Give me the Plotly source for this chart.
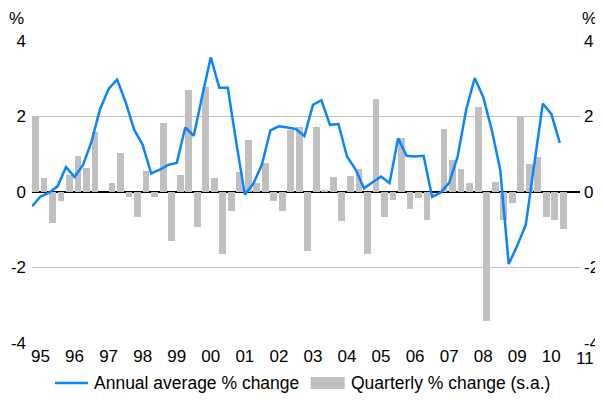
import plotly.graph_objects as go

# Quarterly data from 1995Q1 (index 0) to 2010Q3 (index 62)
quarterly_change = [
    2.0, 0.38, -0.81, -0.25, 0.46, 0.96, 0.64, 1.6,
    0.0, 0.25, 1.04, -0.14, -0.67, 0.56, -0.12, 1.84,
    -1.31, 0.46, 2.71, -0.94, 2.77, 0.38, -1.63, -0.49,
    0.54, 1.39, 0.25, 0.78, -0.25, -0.51, 1.65, 1.73,
    -1.55, 1.73, 0.06, 0.41, -0.78, 0.43, 0.62, -1.65,
    2.47, -0.65, -0.2, 1.44, -0.46, -0.16, -0.73, 0.0,
    1.68, 0.86, 0.62, 0.25, 2.24, -3.41, 0.27, -0.73,
    -0.28, 2.02, 0.75, 0.94, -0.67, -0.75, -0.99,
]
annual_avg_change = [
    -0.38, -0.12, -0.02, 0.15, 0.66, 0.40, 0.72, 1.34,
    2.2, 2.73, 2.98, 2.38, 1.65, 1.25, 0.49, 0.59,
    0.72, 0.77, 1.71, 1.49, 2.55, 3.57, 2.76, 2.76,
    1.3, -0.07, 0.22, 0.72, 1.63, 1.74, 1.71, 1.67,
    1.48, 2.31, 2.43, 1.78, 1.8, 0.94, 0.6, 0.1,
    0.26, 0.41, 0.24, 1.42, 0.96, 0.94, 0.96, -0.13,
    -0.01, 0.24, 0.94, 2.18, 3.02, 2.52, 1.65, 0.59,
    -1.91, -1.42, -0.87, 0.7, 2.34, 2.07, 1.3,
]
year_labels = ["95", "96", "97", "98", "99", "00", "01", "02", "03",
               "04", "05", "06", "07", "08", "09", "10", "11"]
y_ticks = [-4, -2, 0, 2, 4]
y_tick_labels = ["-4", "-2", "0", "2", "4"]

quarter_idx = list(range(len(annual_avg_change)))
bar_pos = [i + 0.4 for i in range(len(quarterly_change))]
year_pos = [1 + 4 * k for k in range(len(year_labels))]

FONT = "Liberation Sans, Arial, sans-serif"
BLUE = "#0a84ff"
GREY = "#c0c0c0"
TICK = 17
LEG = 17.5

fig = go.Figure()
fig.add_trace(go.Bar(
    x=bar_pos, y=quarterly_change, width=0.8,
    marker=dict(color=GREY, line=dict(width=0)),
    name="Quarterly % change (s.a.)", showlegend=False, yaxis="y",
))
fig.add_trace(go.Scatter(
    x=quarter_idx, y=annual_avg_change, mode="lines",
    line=dict(color=BLUE, width=2.5),
    name="Annual average % change", showlegend=False, yaxis="y2",
))

# The page body adds an 8px margin, so the figure is 595x393 and offset by 8px.
x_max = 64.37
fig.update_layout(
    width=595, height=393,
    margin=dict(l=24, r=22.5, t=33, b=58, autoexpand=False),
    paper_bgcolor="white", plot_bgcolor="white",
    font=dict(family=FONT, size=TICK, color="black"),
    bargap=0,
    xaxis=dict(
        range=[0, x_max], tickvals=year_pos[:-1], ticktext=year_labels[:-1],
        showgrid=False, zeroline=False, showline=False, ticks="",
        ticklabelstandoff=1, automargin=False,
    ),
    yaxis=dict(
        range=[-4, 4], tickvals=y_ticks, ticktext=y_tick_labels,
        showgrid=True, gridcolor=GREY,
        gridwidth=1.3, zeroline=True, zerolinecolor="black", zerolinewidth=1.5,
        ticks="", showline=False, ticklabelstandoff=5, automargin=False,
        layer="above traces",
    ),
    yaxis2=dict(
        range=[-4, 4], tickvals=y_ticks, ticktext=y_tick_labels,
        overlaying="y", side="right",
        showgrid=False, zeroline=False, ticks="", showline=False,
        ticklabelstandoff=3, automargin=False,
    ),
)

# "11" label sits just past the right plot edge
fig.add_annotation(x=year_pos[-1] / x_max, xref="paper", y=-0.012, yref="paper",
                   text=year_labels[-1], showarrow=False, yanchor="top",
                   xanchor="center")
# % unit labels
fig.add_annotation(x=-0.029, xref="paper", y=1.075, yref="paper", text="%",
                   showarrow=False, xanchor="center", yanchor="middle")
fig.add_annotation(x=1.017, xref="paper", y=1.075, yref="paper", text="%",
                   showarrow=False, xanchor="center", yanchor="middle")

# custom legend (paper coords; reference plot spans x 32..580.5 px, y 41..343 px)
def px_x(p):
    return (p - 32) / 548.5

def px_y(p):
    return (343 - p) / 302.0

leg_y = px_y(383)
fig.add_shape(type="line", xref="paper", yref="paper", x0=px_x(55), x1=px_x(88),
              y0=leg_y, y1=leg_y, line=dict(color=BLUE, width=2.5))
fig.add_annotation(x=px_x(92), xref="paper", y=leg_y, yref="paper",
                   text="Annual average % change", showarrow=False,
                   xanchor="left", yanchor="middle", font=dict(size=LEG))
fig.add_shape(type="rect", xref="paper", yref="paper", x0=px_x(311), x1=px_x(345),
              y0=px_y(389), y1=px_y(377), line=dict(width=0), fillcolor=GREY)
fig.add_annotation(x=px_x(349), xref="paper", y=leg_y, yref="paper",
                   text="Quarterly % change (s.a.)", showarrow=False,
                   xanchor="left", yanchor="middle", font=dict(size=LEG))

fig.write_html("out.html")
